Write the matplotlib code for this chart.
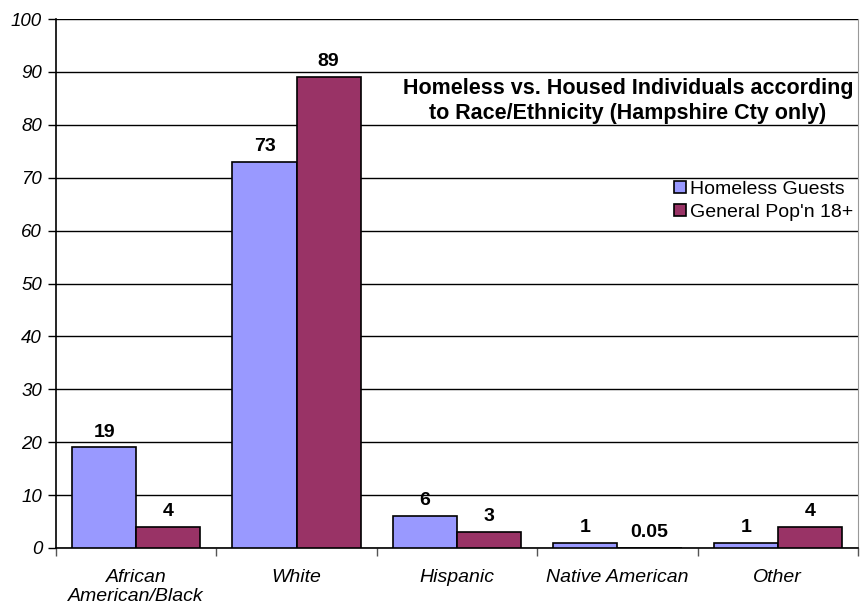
import matplotlib
matplotlib.use("Agg")
import matplotlib.pyplot as plt
import numpy as np

categories = ["African\nAmerican/Black", "White", "Hispanic", "Native American", "Other"]
homeless = [19, 73, 6, 1, 1]
general = [4, 89, 3, 0.05, 4]
homeless_labels = ["19", "73", "6", "1", "1"]
general_labels = ["4", "89", "3", "0.05", "4"]
series_names = ["Homeless Guests", "General Pop'n 18+"]
title = "Homeless vs. Housed Individuals according\nto Race/Ethnicity (Hampshire Cty only)"

plt.rcParams['font.family'] = ['Liberation Sans', 'DejaVu Sans']

fig = plt.figure(figsize=(8.61, 6.05), dpi=100)
ax = fig.add_axes([56/861, 1-548/605, (858-56)/861, (548-19)/605])

x = np.arange(len(categories))
w = 0.4
ax.bar(x - w/2, homeless, w, color="#9999FF", edgecolor="black", linewidth=1.2,
       label=series_names[0], zorder=3)
ax.bar(x + w/2, general, w, color="#993366", edgecolor="black", linewidth=1.2,
       label=series_names[1], zorder=3)

for xi, v, t in zip(x - w/2, homeless, homeless_labels):
    ax.annotate(t, (xi, v), xytext=(0, 5), textcoords="offset points", ha="center",
                va="bottom", fontsize=14, fontweight="bold")
for xi, v, t in zip(x + w/2, general, general_labels):
    ax.annotate(t, (xi, v), xytext=(0, 5), textcoords="offset points", ha="center",
                va="bottom", fontsize=14, fontweight="bold")

ax.set_xlim(-0.5, len(categories) - 0.5)
ax.set_ylim(0, 100)
ax.set_yticks(np.arange(0, 101, 10))
ax.set_yticklabels([str(v) for v in range(0, 101, 10)], fontsize=13.5, style="italic")
ax.set_xticks(x)
ax.set_xticklabels(categories, fontsize=14, style="italic", linespacing=1.15)
ax.tick_params(axis="x", which="major", length=0, pad=15)
ax.set_xticks(np.arange(-0.5, len(categories)), minor=True)
ax.tick_params(axis="x", which="minor", length=6, direction="out", width=1, color="#555555")
ax.tick_params(axis="y", length=6, direction="out", width=1, pad=4)

ax.yaxis.grid(True, color="black", linewidth=1, zorder=0)
ax.set_axisbelow(True)
ax.spines["top"].set_visible(False)
ax.spines["right"].set_color("#999999")
ax.spines["left"].set_color("black")
ax.spines["bottom"].set_color("black")
ax.spines["left"].set_linewidth(1.2)
ax.spines["bottom"].set_linewidth(1.2)

fig.text(628/861, 1-101/605, title, ha="center", va="center", fontsize=15.5,
         fontweight="bold", linespacing=1.3)

leg = ax.legend(loc="upper left", bbox_to_anchor=((674-56)/(858-56), 1-(181-19)/(548-19)),
                frameon=False, fontsize=14, handlelength=0.6, handleheight=0.6,
                handletextpad=0.2, labelspacing=0.3, borderaxespad=0, borderpad=0)
for h in leg.legend_handles:
    h.set_linewidth(1.2)

fig.savefig("out.png", dpi=100)
